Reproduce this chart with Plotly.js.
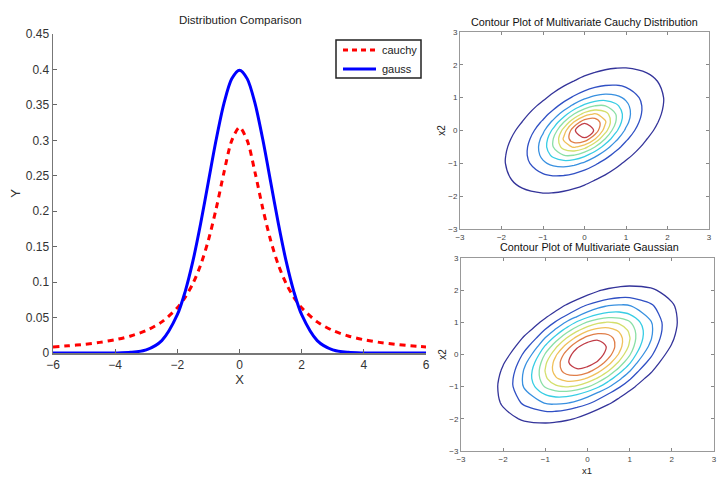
<!DOCTYPE html>
<html>
<head>
<meta charset="utf-8">
<script src="https://cdn.plot.ly/plotly-3.0.1.min.js"></script>
<style>
  html, body { margin: 0; padding: 0; background: #fff; }
  #chart { width: 717px; height: 477px; }
</style>
</head>
<body>
<div id="chart"></div>
<script>
// ---- 1-D densities (left panel) ----
const xVals = [-6, -5.5, -5, -4.5, -4, -3.5, -3, -2.5, -2, -1.75, -1.5, -1.25, -1, -0.75, -0.5, -0.25, 0,
               0.25, 0.5, 0.75, 1, 1.25, 1.5, 1.75, 2, 2.5, 3, 3.5, 4, 4.5, 5, 5.5, 6];
const cauchyVals = [0.0086, 0.0102, 0.0122, 0.0150, 0.0187, 0.0240, 0.0318, 0.0439, 0.0637, 0.0784, 0.0979, 0.1242, 0.1592, 0.2037, 0.2546, 0.2996, 0.3183,
                    0.2996, 0.2546, 0.2037, 0.1592, 0.1242, 0.0979, 0.0784, 0.0637, 0.0439, 0.0318, 0.0240, 0.0187, 0.0150, 0.0122, 0.0102, 0.0086];
const gaussVals = [0, 0, 0, 0, 0.0001, 0.0009, 0.0044, 0.0175, 0.0540, 0.0863, 0.1295, 0.1826, 0.2420, 0.3011, 0.3521, 0.3867, 0.3989,
                   0.3867, 0.3521, 0.3011, 0.2420, 0.1826, 0.1295, 0.0863, 0.0540, 0.0175, 0.0044, 0.0009, 0.0001, 0, 0, 0, 0];
const seriesNames = ['cauchy', 'gauss'];
const seriesColors = ['#ff0000', '#0000ff'];
const xTicks = [-6, -4, -2, 0, 2, 4, 6];
const yTicks = [0, 0.05, 0.1, 0.15, 0.2, 0.25, 0.3, 0.35, 0.4, 0.45];
const yTickText = ['0', '0.05', '0.1', '0.15', '0.2', '0.25', '0.3', '0.35', '0.4', '0.45'];

// ---- 2-D density grids (right panels), rows follow gridY, columns gridX ----
const gridX = [-3, -2.5, -2, -1.5, -1, -0.75, -0.5, -0.25, 0, 0.25, 0.5, 0.75, 1, 1.5, 2, 2.5, 3];
const gridY = [-3, -2.5, -2, -1.5, -1, -0.75, -0.5, -0.25, 0, 0.25, 0.5, 0.75, 1, 1.5, 2, 2.5, 3];

const cauchyZ = [
  [.0039,.0048,.0055,.0058,.0055,.0052,.0048,.0044,.0039,.0035,.0031,.0027,.0023,.0018,.0014,.0010,.0008],
  [.0048,.0064,.0081,.0093,.0093,.0088,.0081,.0073,.0064,.0056,.0048,.0041,.0035,.0025,.0019,.0014,.0010],
  [.0055,.0081,.0115,.0149,.0164,.0160,.0149,.0133,.0115,.0097,.0081,.0067,.0055,.0038,.0026,.0019,.0014],
  [.0058,.0093,.0149,.0230,.0302,.0314,.0302,.0271,.0230,.0187,.0149,.0118,.0093,.0058,.0038,.0025,.0018],
  [.0055,.0093,.0164,.0302,.0516,.0611,.0650,.0611,.0516,.0403,.0302,.0223,.0164,.0093,.0055,.0035,.0023],
  [.0052,.0088,.0160,.0314,.0611,.0794,.0923,.0923,.0794,.0611,.0443,.0314,.0223,.0118,.0067,.0041,.0027],
  [.0048,.0081,.0149,.0302,.0650,.0923,.1194,.1315,.1194,.0923,.0650,.0443,.0302,.0149,.0081,.0048,.0031],
  [.0044,.0073,.0133,.0271,.0611,.0923,.1315,.1630,.1630,.1315,.0923,.0611,.0403,.0187,.0097,.0056,.0035],
  [.0039,.0064,.0115,.0230,.0516,.0794,.1194,.1630,.1838,.1630,.1194,.0794,.0516,.0230,.0115,.0064,.0039],
  [.0035,.0056,.0097,.0187,.0403,.0611,.0923,.1315,.1630,.1630,.1315,.0923,.0611,.0271,.0133,.0073,.0044],
  [.0031,.0048,.0081,.0149,.0302,.0443,.0650,.0923,.1194,.1315,.1194,.0923,.0650,.0302,.0149,.0081,.0048],
  [.0027,.0041,.0067,.0118,.0223,.0314,.0443,.0611,.0794,.0923,.0923,.0794,.0611,.0314,.0160,.0088,.0052],
  [.0023,.0035,.0055,.0093,.0164,.0223,.0302,.0403,.0516,.0611,.0650,.0611,.0516,.0302,.0164,.0093,.0055],
  [.0018,.0025,.0038,.0058,.0093,.0118,.0149,.0187,.0230,.0271,.0302,.0314,.0302,.0230,.0149,.0093,.0058],
  [.0014,.0019,.0026,.0038,.0055,.0067,.0081,.0097,.0115,.0133,.0149,.0160,.0164,.0149,.0115,.0081,.0055],
  [.0010,.0014,.0019,.0025,.0035,.0041,.0048,.0056,.0064,.0073,.0081,.0088,.0093,.0093,.0081,.0064,.0048],
  [.0008,.0010,.0014,.0018,.0023,.0027,.0031,.0035,.0039,.0044,.0048,.0052,.0055,.0058,.0055,.0048,.0039]
];

const gaussZ = [
  [.0005,.0010,.0017,.0020,.0017,.0014,.0010,.0007,.0005,.0003,.0001,.0001,0,0,0,0,0],
  [.0010,.0028,.0056,.0077,.0077,.0068,.0056,.0041,.0028,.0018,.0010,.0006,.0003,.0001,0,0,0],
  [.0017,.0056,.0128,.0211,.0249,.0239,.0211,.0171,.0128,.0088,.0056,.0032,.0017,.0004,.0001,0,0],
  [.0020,.0077,.0211,.0410,.0572,.0597,.0572,.0505,.0410,.0306,.0211,.0133,.0077,.0020,.0004,.0001,0],
  [.0017,.0077,.0249,.0572,.0944,.1069,.1115,.1069,.0944,.0766,.0572,.0393,.0249,.0077,.0017,.0003,0],
  [.0014,.0068,.0239,.0597,.1069,.1263,.1373,.1373,.1263,.1069,.0833,.0597,.0393,.0133,.0032,.0006,.0001],
  [.0010,.0056,.0211,.0572,.1115,.1373,.1556,.1622,.1556,.1373,.1115,.0833,.0572,.0211,.0056,.0010,.0001],
  [.0007,.0041,.0171,.0505,.1069,.1373,.1622,.1763,.1763,.1622,.1373,.1069,.0766,.0306,.0088,.0018,.0003],
  [.0005,.0028,.0128,.0410,.0944,.1263,.1556,.1763,.1838,.1763,.1556,.1263,.0944,.0410,.0128,.0028,.0005],
  [.0003,.0018,.0088,.0306,.0766,.1069,.1373,.1622,.1763,.1763,.1622,.1373,.1069,.0505,.0171,.0041,.0007],
  [.0001,.0010,.0056,.0211,.0572,.0833,.1115,.1373,.1556,.1622,.1556,.1373,.1115,.0572,.0211,.0056,.0010],
  [.0001,.0006,.0032,.0133,.0393,.0597,.0833,.1069,.1263,.1373,.1373,.1263,.1069,.0597,.0239,.0068,.0014],
  [0,.0003,.0017,.0077,.0249,.0393,.0572,.0766,.0944,.1069,.1115,.1069,.0944,.0572,.0249,.0077,.0017],
  [0,.0001,.0004,.0020,.0077,.0133,.0211,.0306,.0410,.0505,.0572,.0597,.0572,.0410,.0211,.0077,.0020],
  [0,0,.0001,.0004,.0017,.0032,.0056,.0088,.0128,.0171,.0211,.0239,.0249,.0211,.0128,.0056,.0017],
  [0,0,0,.0001,.0003,.0006,.0010,.0018,.0028,.0041,.0056,.0068,.0077,.0077,.0056,.0028,.0010],
  [0,0,0,0,0,.0001,.0001,.0003,.0005,.0007,.0010,.0014,.0017,.0020,.0017,.0010,.0005]
];

// contour levels (density values), outermost first, with their line colours
const contourLevels = [0.0184, 0.0368, 0.0551, 0.0735, 0.0919, 0.1103, 0.1287, 0.1470, 0.1654];
const levelColors = ['#34349a', '#3050c4', '#3890e0', '#38cde4', '#8adfa6',
                     '#d4df6c', '#f0c05a', '#e07e48', '#c03c46'];
const contourTicks = [-3, -2, -1, 0, 1, 2, 3];

const FONT = 'Arial, "Liberation Sans", Helvetica, sans-serif';
const W = 717, H = 477;
const px = v => v / W;          // horizontal pixel -> paper fraction
const py = v => (H - v) / H;    // vertical pixel (from top) -> paper fraction

// The density is traced on its logarithm, which the linear cell
// interpolation follows far more closely than the raw values.
const toLog = z => z.map(row => row.map(v => Math.log(Math.max(v, 1e-5))));

function contourLines(z, xa, ya) {
  const zl = toLog(z);
  return contourLevels.map((lev, i) => ({
    type: 'contour', x: gridX, y: gridY, z: zl, xaxis: xa, yaxis: ya,
    contours: { type: 'constraint', operation: '=', value: Math.log(lev) },
    line: { color: levelColors[i], width: 1.3, smoothing: 1 },
    showscale: false, showlegend: false, hoverinfo: 'skip'
  }));
}

const curveDash = '6px,5px';
const traces = [
  { type: 'scatter', mode: 'lines', name: seriesNames[0], x: xVals, y: cauchyVals, showlegend: false,
    line: { color: seriesColors[0], width: 3, dash: curveDash, shape: 'spline', smoothing: 0.8 } },
  { type: 'scatter', mode: 'lines', name: seriesNames[1], x: xVals, y: gaussVals, showlegend: false,
    line: { color: seriesColors[1], width: 3, shape: 'spline', smoothing: 0.8 } }
].concat(contourLines(cauchyZ, 'x2', 'y2'), contourLines(gaussZ, 'x3', 'y3'));

// compact boxed legend in the upper right of the left panel
const legendBox = { x0: 336, x1: 421, y0: 40, y1: 78 };
const legendRows = [50, 69];
const legendShapes = [
  { type: 'rect', xref: 'paper', yref: 'paper',
    x0: px(legendBox.x0), x1: px(legendBox.x1), y0: py(legendBox.y1), y1: py(legendBox.y0),
    fillcolor: '#fff', line: { color: '#222', width: 1.5 }, layer: 'above' }
].concat(seriesNames.map((n, i) => ({
  type: 'line', xref: 'paper', yref: 'paper',
  x0: px(343), x1: px(376), y0: py(legendRows[i]), y1: py(legendRows[i]),
  line: { color: seriesColors[i], width: 3, dash: i === 0 ? '5px,4px' : 'solid' }, layer: 'above'
})));
const legendLabels = seriesNames.map((n, i) => ({
  text: n, xref: 'paper', yref: 'paper', x: px(380), y: py(legendRows[i]),
  xanchor: 'left', yanchor: 'middle', showarrow: false,
  font: { family: FONT, size: 11, color: '#222' }
}));

const boxAxis = {
  range: [-3, 3], tickvals: contourTicks, ticks: 'inside', ticklen: 3, tickcolor: '#888',
  showline: true, linecolor: '#999', linewidth: 1, mirror: 'ticks',
  showgrid: false, zeroline: false, fixedrange: true,
  tickfont: { family: FONT, size: 8, color: '#444' }
};

const layout = {
  width: W, height: H,
  margin: { l: 0, r: 0, t: 0, b: 0 },
  paper_bgcolor: '#fff', plot_bgcolor: '#fff',
  font: { family: FONT, color: '#222' },
  showlegend: false,
  xaxis: {
    domain: [px(53), px(426)], range: [-6, 6], tickvals: xTicks,
    ticks: 'inside', ticklen: 4, tickcolor: '#666',
    showline: true, linecolor: '#777', linewidth: 1.5,
    showgrid: false, zeroline: false, fixedrange: true,
    tickfont: { family: FONT, size: 12, color: '#333' },
    title: { text: 'X', font: { family: FONT, size: 13, color: '#333' }, standoff: 1 }
  },
  yaxis: {
    domain: [py(353), py(34)], range: [0, 0.45], tickvals: yTicks, ticktext: yTickText,
    ticks: 'inside', ticklen: 4, tickcolor: '#666',
    showline: true, linecolor: '#777', linewidth: 1.5,
    showgrid: false, zeroline: false, fixedrange: true,
    tickfont: { family: FONT, size: 12, color: '#333' },
    title: { text: 'Y', font: { family: FONT, size: 13, color: '#333' }, standoff: 2 }
  },
  xaxis2: Object.assign({}, boxAxis, { domain: [px(460), px(709)], anchor: 'y2' }),
  yaxis2: Object.assign({}, boxAxis, { domain: [py(229), py(32)], anchor: 'x2',
    title: { text: 'x2', font: { family: FONT, size: 10, color: '#222' }, standoff: 0 } }),
  xaxis3: Object.assign({}, boxAxis, { domain: [px(461), px(714)], anchor: 'y3' }),
  yaxis3: Object.assign({}, boxAxis, { domain: [py(451), py(258)], anchor: 'x3',
    title: { text: 'x2', font: { family: FONT, size: 10, color: '#222' }, standoff: 0 } }),
  shapes: legendShapes,
  annotations: [
    { text: 'Distribution Comparison', xref: 'paper', yref: 'paper',
      x: px(240), y: py(20), xanchor: 'center', yanchor: 'middle', showarrow: false,
      font: { family: FONT, size: 11.5, color: '#222' } },
    { text: 'Contour Plot of Multivariate Cauchy Distribution', xref: 'paper', yref: 'paper',
      x: px(584), y: py(22), xanchor: 'center', yanchor: 'middle', showarrow: false,
      font: { family: FONT, size: 10.8, color: '#111' } },
    { text: 'Contour Plot of Multivariate Gaussian', xref: 'paper', yref: 'paper',
      x: px(589), y: py(247), xanchor: 'center', yanchor: 'middle', showarrow: false,
      font: { family: FONT, size: 10.8, color: '#111' } },
    { text: 'x1', xref: 'paper', yref: 'paper', borderpad: 0,
      x: px(587), y: py(477), xanchor: 'center', yanchor: 'bottom', showarrow: false,
      font: { family: FONT, size: 9.5, color: '#222' } }
  ].concat(legendLabels)
};

Plotly.newPlot('chart', traces, layout, { staticPlot: true, displayModeBar: false });
</script>
</body>
</html>
